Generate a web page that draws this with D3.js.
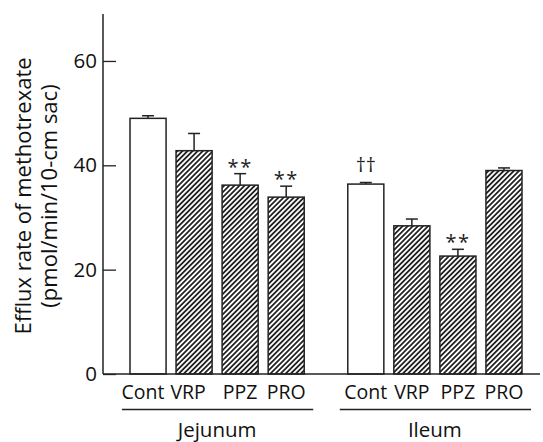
<!DOCTYPE html>
<meta charset="utf-8">
<title>Efflux rate of methotrexate</title>
<style>
body { margin: 0; background: #fff; }
text { font-family: "Open Sans", sans-serif; fill: #111; }
</style>
<svg></svg>
<script src="https://d3js.org/d3.v7.min.js"></script>
<script>
var width = 543, height = 442;

// data
var groups = ["Jejunum", "Ileum"];
var categories = ["Cont", "VRP", "PPZ", "PRO"];
var jejunumValues = [49.0, 42.8, 36.2, 33.9];
var jejunumErrors = [0.5, 3.3, 2.2, 2.1];
var ileumValues = [36.4, 28.4, 22.6, 39.0];
var ileumErrors = [0.3, 1.3, 1.3, 0.5];
var jejunumMarks = ["", "", "**", "**"];
var ileumMarks = ["††", "", "**", ""];
var yTicks = [0, 20, 40, 60];

var rows = [];
groups.forEach(function(g, gi) {
  var vals = gi === 0 ? jejunumValues : ileumValues;
  var errs = gi === 0 ? jejunumErrors : ileumErrors;
  var marks = gi === 0 ? jejunumMarks : ileumMarks;
  categories.forEach(function(c, ci) {
    rows.push({ group: g, cat: c, value: vals[ci], err: errs[ci], mark: marks[ci] });
  });
});

var svg = d3.select("svg")
  .attr("width", width)
  .attr("height", height);

var axisX = 103, baseY = 374, topY = 14;

var y = d3.scaleLinear()
  .domain([0, 69])
  .range([baseY, topY]);

var x0 = d3.scaleBand()
  .domain(groups)
  .range([130, 522])
  .paddingInner(0.2)
  .paddingOuter(0);

var x1 = d3.scaleBand()
  .domain(categories)
  .range([0, x0.bandwidth()])
  .paddingInner(0.217)
  .paddingOuter(0);

// hatch pattern
var hs = 3.6;
var pat = svg.append("defs").append("pattern")
  .attr("id", "hatch")
  .attr("patternUnits", "userSpaceOnUse")
  .attr("width", hs)
  .attr("height", hs)
  .attr("patternTransform", "rotate(45)");
pat.append("rect")
  .attr("width", hs)
  .attr("height", hs)
  .attr("fill", "#fff");
pat.append("line")
  .attr("x1", hs / 2)
  .attr("y1", 0)
  .attr("x2", hs / 2)
  .attr("y2", hs)
  .attr("stroke", "#222")
  .attr("stroke-width", 1.8);

function barX(d) { return x0(d.group) + x1(d.cat); }
function barMid(d) { return barX(d) + x1.bandwidth() / 2; }

// error bars (upper only)
var eb = svg.append("g")
  .attr("stroke", "#222")
  .attr("stroke-width", 1.5)
  .selectAll("g")
  .data(rows)
  .enter()
  .append("g");

eb.append("line")
  .attr("x1", barMid)
  .attr("x2", barMid)
  .attr("y1", d => y(d.value))
  .attr("y2", d => y(d.value + d.err));

eb.append("line")
  .attr("x1", d => barMid(d) - 6)
  .attr("x2", d => barMid(d) + 6)
  .attr("y1", d => y(d.value + d.err))
  .attr("y2", d => y(d.value + d.err));

// bars
svg.append("g")
  .selectAll("rect")
  .data(rows)
  .enter()
  .append("rect")
  .attr("x", barX)
  .attr("y", d => y(d.value))
  .attr("width", x1.bandwidth())
  .attr("height", d => y(0) - y(d.value))
  .attr("fill", d => d.cat === "Cont" ? "#fff" : "url(#hatch)")
  .attr("stroke", "#222")
  .attr("stroke-width", 1.5);

// significance marks
svg.append("g")
  .selectAll("text")
  .data(rows.filter(d => d.mark))
  .enter()
  .append("text")
  .attr("x", barMid)
  .attr("y", d => y(d.value + d.err) - (d.mark === "**" ? 0 : 11))
  .attr("text-anchor", "middle")
  .attr("font-size", 20)
  .attr("letter-spacing", d => d.mark === "**" ? 1.5 : 0)
  .style("fill", "#222")
  .text(d => d.mark);

// y axis
var yAxis = d3.axisLeft(y)
  .tickValues(yTicks)
  .tickSizeInner(-13)
  .tickSizeOuter(0)
  .tickPadding(6)
  .tickFormat(d3.format("d"));

var ya = svg.append("g")
  .attr("transform", "translate(" + axisX + ",0)")
  .call(yAxis);
ya.select(".domain").remove();
ya.selectAll(".tick line").attr("stroke", "#222").attr("stroke-width", 1.3);
ya.selectAll(".tick text")
  .attr("x", -6)
  .attr("font-size", 20.5)
  .attr("font-family", "Open Sans, sans-serif")
  .style("fill", "#111");

svg.append("line")
  .attr("x1", axisX).attr("x2", axisX)
  .attr("y1", topY).attr("y2", baseY)
  .attr("stroke", "#222").attr("stroke-width", 1.5);

svg.append("line")
  .attr("x1", axisX).attr("x2", 540)
  .attr("y1", baseY).attr("y2", baseY)
  .attr("stroke", "#222").attr("stroke-width", 1.5);

// category labels
var labelShift = { "Jejunum": [-5, -6, 0, 0], "Ileum": [0, 0, 0, 0] };
svg.append("g")
  .selectAll("text")
  .data(rows)
  .enter()
  .append("text")
  .attr("x", d => barMid(d) + labelShift[d.group][categories.indexOf(d.cat)])
  .attr("y", 398.5)
  .attr("text-anchor", "middle")
  .attr("font-size", 19.5)
  .text(d => d.cat);

// group underline + labels
var gg = svg.append("g")
  .selectAll("g")
  .data(groups)
  .enter()
  .append("g");

gg.append("line")
  .attr("x1", d => x0(d) - 8)
  .attr("x2", d => x0(d) + x0.bandwidth() + 9)
  .attr("y1", 409.5)
  .attr("y2", 409.5)
  .attr("stroke", "#222")
  .attr("stroke-width", 1.3);

gg.append("text")
  .attr("x", d => x0(d) + x0.bandwidth() / 2)
  .attr("y", 437)
  .attr("text-anchor", "middle")
  .attr("font-size", 20.5)
  .text(d => d);

// y axis title
var yt = svg.append("text")
  .attr("transform", "translate(0,196) rotate(-90)")
  .attr("text-anchor", "middle")
  .attr("font-size", 22);
yt.append("tspan").attr("x", 0).attr("y", 31).text("Efflux rate of methotrexate");
yt.append("tspan").attr("x", 0).attr("y", 57).text("(pmol/min/10-cm sac)");
</script>
